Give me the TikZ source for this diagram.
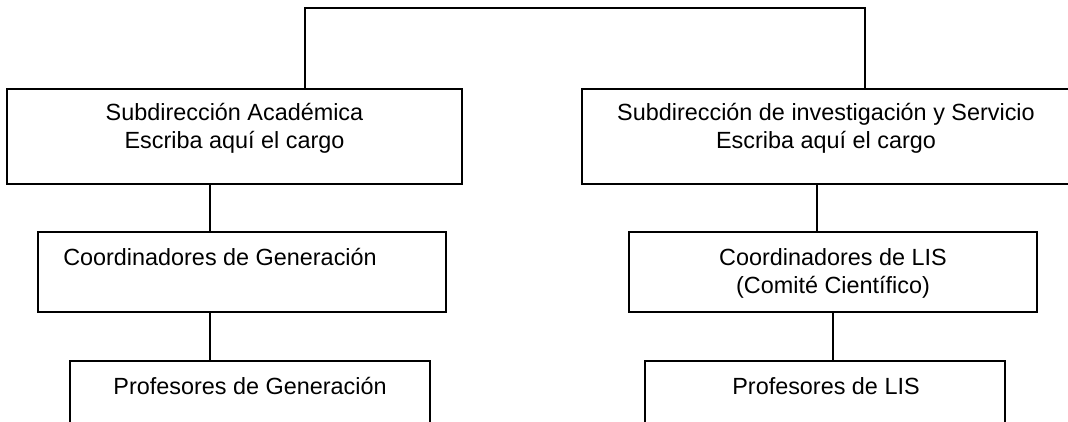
\documentclass[tikz,border=0pt]{standalone}
\usepackage{fontspec}
\setmainfont{Liberation Sans}
\usetikzlibrary{positioning}

\begin{document}
\begin{tikzpicture}[x=1pt,y=-1pt,
    box/.style={draw, line width=1.5pt, inner sep=0pt},
    lbl/.style={anchor=base, inner sep=0pt, align=center, font=\fontsize{23.4}{28}\selectfont}]
  \clip (0,0) rectangle (1068,422);
  % boxes
  \node [box, minimum width=455pt, minimum height=95pt] (sa) at (234.5,136.5) {};
  \node [box, minimum width=489pt, minimum height=95pt] (si) at (826.5,136.5) {};
  \node [box, minimum width=408pt, minimum height=80pt] (cg) at (242,272) {};
  \node [box, minimum width=408pt, minimum height=80pt] (cl) at (833,272) {};
  \node [box, minimum width=360pt, minimum height=80pt] (pg) at (250,401) {};
  \node [box, minimum width=360pt, minimum height=80pt] (pl) at (825,401) {};
  % texts (base = last line)
  \node [lbl] (saT) at (234.5,149) {Subdirección Académica\\Escriba aquí el cargo};
  \node [lbl] (siT) at (826,149) {Subdirección de investigación y Servicio\\Escriba aquí el cargo};
  \node [lbl] (cgT) at (220,265) {Coordinadores de Generación};
  \node [lbl] (clT) at (833,293) {Coordinadores de LIS\\(Comité Científico)};
  \node [lbl] (pgT) at (250,394) {Profesores de Generación};
  \node [lbl] (plT) at (826,394) {Profesores de LIS};
  % connectors
  \coordinate (tl) at (305,8);
  \coordinate (tr) at (865,8);
  \coordinate (lx) at (210,0);
  \coordinate (rx) at (817,0);
  \draw [line width=1.5pt] (tl |- sa.north) -- (tl) -- (tr) -- (tr |- si.north);
  \draw [line width=1.5pt] (sa.south -| lx) -- (cg.north -| lx);
  \draw [line width=1.5pt] (cg.south -| lx) -- (pg.north -| lx);
  \draw [line width=1.5pt] (si.south -| rx) -- (cl.north -| rx);
  \draw [line width=1.5pt] (cl.south) -- (cl.south |- pl.north);
\end{tikzpicture}
\end{document}
